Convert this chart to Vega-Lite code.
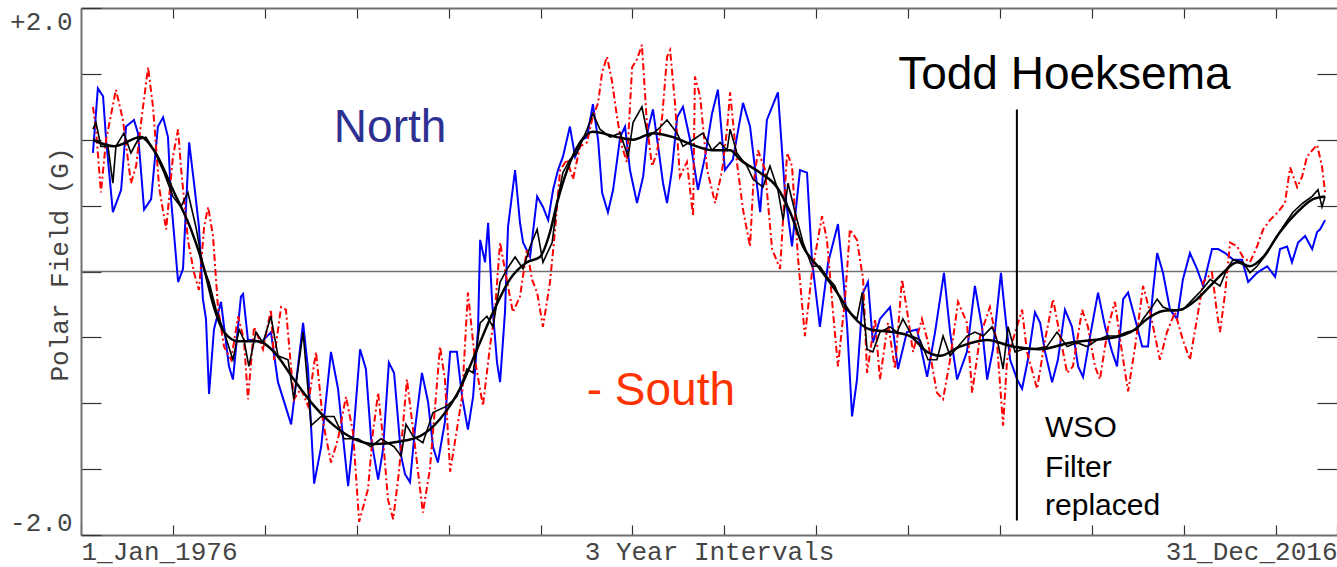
{
  "$schema": "https://vega.github.io/schema/vega-lite/v6.json",
  "width": 1256,
  "height": 527,
  "autosize": {"type": "none"},
  "padding": {"left": 81, "top": 8, "right": 0, "bottom": 32},
  "background": "white",
  "config": {"view": {"stroke": null}},
  "datasets": {
    "north": [
      {"t":1976.39,"v":0.90},{"t":1976.55,"v":1.39},{"t":1976.72,"v":1.33},{"t":1976.82,"v":1.00},{"t":1977.04,"v":0.45},{"t":1977.31,"v":0.62},{"t":1977.47,"v":1.10},{"t":1977.73,"v":1.15},{"t":1977.86,"v":1.05},{"t":1978.06,"v":0.47},{"t":1978.29,"v":0.55},{"t":1978.51,"v":1.10},{"t":1978.68,"v":1.17},{"t":1978.84,"v":1.02},{"t":1978.94,"v":0.55},{"t":1979.17,"v":-0.08},{"t":1979.33,"v":0.02},{"t":1979.53,"v":0.98},{"t":1979.69,"v":0.67},{"t":1979.85,"v":0.34},{"t":1979.98,"v":-0.21},{"t":1980.08,"v":-0.36},{"t":1980.18,"v":-0.93},{"t":1980.34,"v":-0.44},{"t":1980.57,"v":-0.23},{"t":1980.83,"v":-0.72},{"t":1980.96,"v":-0.82},{"t":1981.22,"v":-0.19},{"t":1981.29,"v":-0.17},{"t":1981.45,"v":-0.52},{"t":1981.65,"v":-0.52},{"t":1981.88,"v":-0.54},{"t":1982.20,"v":-0.46},{"t":1982.43,"v":-0.84},{"t":1982.86,"v":-1.16},{"t":1983.25,"v":-0.39},{"t":1983.41,"v":-0.74},{"t":1983.61,"v":-1.61},{"t":1983.84,"v":-1.33},{"t":1984.16,"v":-0.61},{"t":1984.39,"v":-0.89},{"t":1984.72,"v":-1.63},{"t":1984.88,"v":-1.27},{"t":1985.11,"v":-0.59},{"t":1985.30,"v":-0.74},{"t":1985.47,"v":-1.27},{"t":1985.70,"v":-1.58},{"t":1985.86,"v":-1.35},{"t":1986.05,"v":-0.69},{"t":1986.22,"v":-0.77},{"t":1986.45,"v":-1.40},{"t":1986.58,"v":-1.54},{"t":1986.74,"v":-1.60},{"t":1986.90,"v":-1.20},{"t":1987.13,"v":-0.77},{"t":1987.33,"v":-0.99},{"t":1987.49,"v":-1.33},{"t":1987.65,"v":-1.45},{"t":1987.88,"v":-1.14},{"t":1988.05,"v":-0.61},{"t":1988.27,"v":-0.61},{"t":1988.44,"v":-0.95},{"t":1988.63,"v":-1.20},{"t":1988.80,"v":-0.95},{"t":1988.96,"v":-0.44},{"t":1989.03,"v":0.24},{"t":1989.19,"v":0.07},{"t":1989.29,"v":0.37},{"t":1989.42,"v":-0.23},{"t":1989.58,"v":-0.69},{"t":1989.68,"v":-0.84},{"t":1989.84,"v":-0.31},{"t":1989.94,"v":0.34},{"t":1990.17,"v":0.77},{"t":1990.33,"v":0.37},{"t":1990.43,"v":0.22},{"t":1990.66,"v":0.11},{"t":1990.89,"v":0.57},{"t":1991.08,"v":0.49},{"t":1991.25,"v":0.39},{"t":1991.41,"v":0.62},{"t":1991.57,"v":0.77},{"t":1991.73,"v":0.87},{"t":1991.96,"v":1.10},{"t":1992.13,"v":0.87},{"t":1992.35,"v":1.00},{"t":1992.52,"v":1.02},{"t":1992.71,"v":1.27},{"t":1992.88,"v":1.00},{"t":1993.01,"v":0.60},{"t":1993.20,"v":0.45},{"t":1993.37,"v":0.62},{"t":1993.60,"v":1.02},{"t":1993.76,"v":1.10},{"t":1993.92,"v":0.77},{"t":1994.15,"v":0.52},{"t":1994.35,"v":0.72},{"t":1994.51,"v":1.08},{"t":1994.67,"v":1.23},{"t":1994.84,"v":0.95},{"t":1995.00,"v":0.67},{"t":1995.13,"v":0.52},{"t":1995.29,"v":0.77},{"t":1995.46,"v":1.17},{"t":1995.65,"v":1.25},{"t":1995.88,"v":1.00},{"t":1996.14,"v":0.62},{"t":1996.37,"v":0.87},{"t":1996.60,"v":1.20},{"t":1996.79,"v":1.38},{"t":1997.02,"v":0.77},{"t":1997.28,"v":0.85},{"t":1997.61,"v":1.28},{"t":1997.84,"v":1.10},{"t":1998.17,"v":0.45},{"t":1998.39,"v":1.15},{"t":1998.75,"v":1.36},{"t":1998.98,"v":0.60},{"t":1999.21,"v":0.19},{"t":1999.47,"v":0.77},{"t":1999.70,"v":0.75},{"t":1999.86,"v":0.09},{"t":2000.12,"v":-0.42},{"t":2000.39,"v":0.07},{"t":2000.71,"v":0.36},{"t":2000.88,"v":-0.04},{"t":2001.01,"v":-0.42},{"t":2001.17,"v":-1.10},{"t":2001.33,"v":-0.82},{"t":2001.53,"v":-0.16},{"t":2001.69,"v":-0.08},{"t":2001.85,"v":-0.54},{"t":2002.08,"v":-0.36},{"t":2002.41,"v":-0.27},{"t":2002.67,"v":-0.74},{"t":2002.96,"v":-0.46},{"t":2003.29,"v":-0.44},{"t":2003.62,"v":-0.80},{"t":2003.88,"v":-0.46},{"t":2004.17,"v":-0.01},{"t":2004.37,"v":-0.46},{"t":2004.60,"v":-0.82},{"t":2004.92,"v":-0.61},{"t":2005.18,"v":-0.11},{"t":2005.41,"v":-0.42},{"t":2005.58,"v":-0.82},{"t":2005.77,"v":-0.59},{"t":2006.03,"v":-0.01},{"t":2006.16,"v":-0.31},{"t":2006.33,"v":-0.67},{"t":2006.56,"v":-0.82},{"t":2006.72,"v":-0.89},{"t":2006.91,"v":-0.67},{"t":2007.14,"v":-0.31},{"t":2007.31,"v":-0.39},{"t":2007.47,"v":-0.61},{"t":2007.70,"v":-0.84},{"t":2007.89,"v":-0.67},{"t":2008.12,"v":-0.29},{"t":2008.35,"v":-0.42},{"t":2008.55,"v":-0.72},{"t":2008.71,"v":-0.80},{"t":2008.94,"v":-0.49},{"t":2009.20,"v":-0.16},{"t":2009.43,"v":-0.42},{"t":2009.66,"v":-0.61},{"t":2009.82,"v":-0.72},{"t":2010.02,"v":-0.21},{"t":2010.18,"v":-0.16},{"t":2010.41,"v":-0.36},{"t":2010.64,"v":-0.57},{"t":2010.83,"v":-0.57},{"t":2010.99,"v":-0.16},{"t":2011.13,"v":0.14},{"t":2011.32,"v":-0.01},{"t":2011.55,"v":-0.29},{"t":2011.78,"v":-0.36},{"t":2011.97,"v":-0.06},{"t":2012.20,"v":0.14},{"t":2012.43,"v":0.02},{"t":2012.63,"v":-0.11},{"t":2012.92,"v":0.17},{"t":2013.12,"v":0.17},{"t":2013.35,"v":0.14},{"t":2013.61,"v":0.09},{"t":2013.90,"v":0.09},{"t":2014.10,"v":-0.08},{"t":2014.39,"v":-0.01},{"t":2014.72,"v":0.04},{"t":2014.98,"v":-0.04},{"t":2015.14,"v":0.17},{"t":2015.37,"v":0.19},{"t":2015.53,"v":0.07},{"t":2015.73,"v":0.22},{"t":2015.96,"v":0.27},{"t":2016.19,"v":0.17},{"t":2016.35,"v":0.30},{"t":2016.45,"v":0.32},{"t":2016.61,"v":0.39}
    ],
    "south": [
      {"t":1976.39,"v":1.25},{"t":1976.49,"v":1.08},{"t":1976.65,"v":0.60},{"t":1976.82,"v":1.00},{"t":1977.14,"v":1.38},{"t":1977.37,"v":1.15},{"t":1977.63,"v":0.67},{"t":1977.80,"v":0.80},{"t":1977.96,"v":1.13},{"t":1978.19,"v":1.55},{"t":1978.35,"v":1.25},{"t":1978.55,"v":0.64},{"t":1978.78,"v":0.32},{"t":1979.00,"v":0.87},{"t":1979.17,"v":1.08},{"t":1979.26,"v":0.80},{"t":1979.49,"v":0.24},{"t":1979.69,"v":-0.01},{"t":1979.85,"v":-0.14},{"t":1980.02,"v":0.34},{"t":1980.15,"v":0.49},{"t":1980.31,"v":0.27},{"t":1980.47,"v":-0.27},{"t":1980.67,"v":-0.57},{"t":1980.90,"v":-0.67},{"t":1981.13,"v":-0.34},{"t":1981.32,"v":-0.52},{"t":1981.45,"v":-0.97},{"t":1981.65,"v":-0.42},{"t":1981.94,"v":-0.59},{"t":1982.20,"v":-0.29},{"t":1982.30,"v":-0.67},{"t":1982.53,"v":-0.27},{"t":1982.69,"v":-0.29},{"t":1982.95,"v":-0.97},{"t":1983.18,"v":-0.89},{"t":1983.41,"v":-1.02},{"t":1983.67,"v":-0.61},{"t":1983.90,"v":-1.14},{"t":1984.16,"v":-1.45},{"t":1984.39,"v":-1.27},{"t":1984.65,"v":-0.95},{"t":1984.88,"v":-1.22},{"t":1985.08,"v":-1.90},{"t":1985.37,"v":-1.65},{"t":1985.53,"v":-1.22},{"t":1985.70,"v":-0.92},{"t":1985.86,"v":-1.27},{"t":1986.02,"v":-1.73},{"t":1986.19,"v":-1.88},{"t":1986.38,"v":-1.52},{"t":1986.64,"v":-0.82},{"t":1986.84,"v":-1.20},{"t":1987.16,"v":-1.83},{"t":1987.39,"v":-1.50},{"t":1987.72,"v":-0.57},{"t":1987.88,"v":-0.82},{"t":1988.05,"v":-1.52},{"t":1988.27,"v":-1.20},{"t":1988.44,"v":-0.95},{"t":1988.63,"v":-0.16},{"t":1988.86,"v":-0.67},{"t":1989.12,"v":-1.02},{"t":1989.35,"v":-0.57},{"t":1989.51,"v":-0.31},{"t":1989.68,"v":0.22},{"t":1989.91,"v":-0.08},{"t":1990.10,"v":-0.31},{"t":1990.33,"v":-0.19},{"t":1990.56,"v":0.17},{"t":1990.72,"v":-0.06},{"t":1990.89,"v":-0.16},{"t":1991.08,"v":-0.42},{"t":1991.31,"v":-0.08},{"t":1991.47,"v":0.30},{"t":1991.64,"v":0.77},{"t":1991.87,"v":0.85},{"t":1992.06,"v":0.70},{"t":1992.29,"v":0.95},{"t":1992.52,"v":0.98},{"t":1992.68,"v":1.15},{"t":1992.88,"v":1.28},{"t":1993.01,"v":1.51},{"t":1993.17,"v":1.63},{"t":1993.33,"v":1.45},{"t":1993.50,"v":1.17},{"t":1993.66,"v":0.95},{"t":1993.82,"v":0.83},{"t":1993.99,"v":1.55},{"t":1994.15,"v":1.61},{"t":1994.31,"v":1.72},{"t":1994.48,"v":1.10},{"t":1994.64,"v":0.80},{"t":1994.80,"v":0.90},{"t":1994.97,"v":1.17},{"t":1995.13,"v":1.63},{"t":1995.23,"v":1.68},{"t":1995.39,"v":1.28},{"t":1995.55,"v":0.72},{"t":1995.78,"v":0.83},{"t":1995.98,"v":0.42},{"t":1996.04,"v":1.48},{"t":1996.21,"v":1.33},{"t":1996.44,"v":0.77},{"t":1996.70,"v":0.52},{"t":1996.93,"v":0.77},{"t":1997.09,"v":1.08},{"t":1997.19,"v":1.36},{"t":1997.41,"v":0.83},{"t":1997.61,"v":0.47},{"t":1997.84,"v":0.19},{"t":1997.94,"v":0.64},{"t":1998.10,"v":0.92},{"t":1998.33,"v":0.77},{"t":1998.56,"v":0.17},{"t":1998.82,"v":0.02},{"t":1999.05,"v":0.90},{"t":1999.21,"v":0.80},{"t":1999.41,"v":0.09},{"t":1999.63,"v":-0.49},{"t":1999.86,"v":-0.01},{"t":2000.19,"v":0.42},{"t":2000.35,"v":0.24},{"t":2000.55,"v":-0.31},{"t":2000.71,"v":-0.72},{"t":2000.94,"v":-0.21},{"t":2001.10,"v":0.32},{"t":2001.33,"v":0.24},{"t":2001.53,"v":-0.06},{"t":2001.66,"v":-0.77},{"t":2001.92,"v":-0.36},{"t":2002.08,"v":-0.82},{"t":2002.34,"v":-0.39},{"t":2002.57,"v":-0.74},{"t":2002.80,"v":-0.06},{"t":2002.96,"v":-0.29},{"t":2003.16,"v":-0.61},{"t":2003.45,"v":-0.36},{"t":2003.65,"v":-0.54},{"t":2003.94,"v":-0.92},{"t":2004.14,"v":-0.97},{"t":2004.37,"v":-0.67},{"t":2004.63,"v":-0.23},{"t":2004.92,"v":-0.39},{"t":2005.09,"v":-0.92},{"t":2005.35,"v":-0.49},{"t":2005.67,"v":-0.27},{"t":2005.90,"v":-0.54},{"t":2006.10,"v":-1.17},{"t":2006.23,"v":-0.67},{"t":2006.42,"v":-0.52},{"t":2006.72,"v":-0.29},{"t":2006.88,"v":-0.61},{"t":2007.21,"v":-0.89},{"t":2007.47,"v":-0.52},{"t":2007.73,"v":-0.21},{"t":2007.96,"v":-0.49},{"t":2008.19,"v":-0.77},{"t":2008.38,"v":-0.72},{"t":2008.68,"v":-0.29},{"t":2008.87,"v":-0.42},{"t":2009.10,"v":-0.72},{"t":2009.26,"v":-0.82},{"t":2009.53,"v":-0.42},{"t":2009.75,"v":-0.23},{"t":2009.98,"v":-0.61},{"t":2010.18,"v":-0.91},{"t":2010.41,"v":-0.57},{"t":2010.67,"v":-0.11},{"t":2010.90,"v":-0.31},{"t":2011.06,"v":-0.49},{"t":2011.22,"v":-0.67},{"t":2011.45,"v":-0.46},{"t":2011.71,"v":-0.31},{"t":2011.97,"v":-0.52},{"t":2012.20,"v":-0.67},{"t":2012.43,"v":-0.36},{"t":2012.63,"v":-0.08},{"t":2012.92,"v":-0.01},{"t":2013.08,"v":-0.31},{"t":2013.18,"v":-0.46},{"t":2013.35,"v":-0.16},{"t":2013.51,"v":0.22},{"t":2013.74,"v":0.19},{"t":2013.93,"v":0.11},{"t":2014.16,"v":0.07},{"t":2014.39,"v":0.19},{"t":2014.59,"v":0.32},{"t":2014.81,"v":0.39},{"t":2015.07,"v":0.45},{"t":2015.30,"v":0.52},{"t":2015.47,"v":0.79},{"t":2015.70,"v":0.64},{"t":2015.86,"v":0.72},{"t":2016.02,"v":0.87},{"t":2016.19,"v":0.92},{"t":2016.35,"v":0.96},{"t":2016.51,"v":0.80},{"t":2016.61,"v":0.60}
    ],
    "avg": [
      {"t":1976.39,"v":1.08},{"t":1976.49,"v":1.13},{"t":1976.65,"v":0.95},{"t":1976.88,"v":0.95},{"t":1977.04,"v":0.67},{"t":1977.14,"v":0.95},{"t":1977.40,"v":1.05},{"t":1977.63,"v":0.90},{"t":1977.86,"v":1.00},{"t":1978.12,"v":1.02},{"t":1978.38,"v":0.92},{"t":1978.71,"v":0.75},{"t":1979.00,"v":0.57},{"t":1979.26,"v":0.49},{"t":1979.49,"v":0.60},{"t":1979.75,"v":0.34},{"t":1979.98,"v":0.04},{"t":1980.18,"v":-0.08},{"t":1980.41,"v":-0.29},{"t":1980.67,"v":-0.46},{"t":1980.96,"v":-0.67},{"t":1981.16,"v":-0.44},{"t":1981.32,"v":-0.52},{"t":1981.48,"v":-0.72},{"t":1981.71,"v":-0.46},{"t":1981.94,"v":-0.54},{"t":1982.20,"v":-0.34},{"t":1982.43,"v":-0.64},{"t":1982.76,"v":-0.67},{"t":1982.95,"v":-0.97},{"t":1983.25,"v":-0.46},{"t":1983.51,"v":-1.17},{"t":1983.84,"v":-1.10},{"t":1984.26,"v":-1.10},{"t":1984.59,"v":-1.27},{"t":1985.04,"v":-1.27},{"t":1985.47,"v":-1.33},{"t":1985.79,"v":-1.27},{"t":1986.22,"v":-1.33},{"t":1986.45,"v":-1.40},{"t":1986.61,"v":-1.16},{"t":1986.84,"v":-1.25},{"t":1987.16,"v":-1.30},{"t":1987.49,"v":-1.07},{"t":1987.95,"v":-1.02},{"t":1988.27,"v":-0.95},{"t":1988.60,"v":-0.74},{"t":1988.80,"v":-0.77},{"t":1989.03,"v":-0.39},{"t":1989.25,"v":-0.34},{"t":1989.45,"v":-0.42},{"t":1989.68,"v":-0.08},{"t":1989.91,"v":0.02},{"t":1990.17,"v":0.11},{"t":1990.43,"v":0.02},{"t":1990.66,"v":0.19},{"t":1990.89,"v":0.32},{"t":1991.08,"v":0.07},{"t":1991.38,"v":0.22},{"t":1991.54,"v":0.52},{"t":1991.73,"v":0.75},{"t":1991.96,"v":0.85},{"t":1992.19,"v":0.90},{"t":1992.52,"v":1.08},{"t":1992.71,"v":1.20},{"t":1992.94,"v":1.08},{"t":1993.27,"v":1.02},{"t":1993.60,"v":1.05},{"t":1993.86,"v":0.87},{"t":1994.02,"v":1.13},{"t":1994.31,"v":1.25},{"t":1994.51,"v":1.02},{"t":1994.84,"v":1.08},{"t":1995.13,"v":1.15},{"t":1995.46,"v":1.05},{"t":1995.65,"v":0.95},{"t":1995.98,"v":1.00},{"t":1996.30,"v":1.05},{"t":1996.60,"v":0.92},{"t":1996.86,"v":0.98},{"t":1997.09,"v":0.92},{"t":1997.19,"v":1.08},{"t":1997.41,"v":0.90},{"t":1997.74,"v":0.80},{"t":1997.94,"v":0.70},{"t":1998.26,"v":0.64},{"t":1998.49,"v":0.80},{"t":1998.75,"v":0.62},{"t":1998.92,"v":0.39},{"t":1999.08,"v":0.67},{"t":1999.31,"v":0.45},{"t":1999.57,"v":0.22},{"t":1999.86,"v":0.04},{"t":2000.12,"v":0.04},{"t":2000.35,"v":-0.04},{"t":2000.61,"v":-0.11},{"t":2000.88,"v":-0.27},{"t":2001.10,"v":-0.31},{"t":2001.33,"v":-0.36},{"t":2001.50,"v":-0.16},{"t":2001.66,"v":-0.59},{"t":2001.85,"v":-0.61},{"t":2002.08,"v":-0.46},{"t":2002.41,"v":-0.42},{"t":2002.64,"v":-0.46},{"t":2002.83,"v":-0.36},{"t":2003.13,"v":-0.49},{"t":2003.39,"v":-0.52},{"t":2003.65,"v":-0.67},{"t":2003.94,"v":-0.67},{"t":2004.14,"v":-0.49},{"t":2004.37,"v":-0.64},{"t":2004.63,"v":-0.57},{"t":2004.92,"v":-0.49},{"t":2005.18,"v":-0.46},{"t":2005.45,"v":-0.49},{"t":2005.74,"v":-0.42},{"t":2005.93,"v":-0.54},{"t":2006.10,"v":-0.74},{"t":2006.26,"v":-0.42},{"t":2006.49,"v":-0.61},{"t":2006.75,"v":-0.59},{"t":2007.08,"v":-0.59},{"t":2007.53,"v":-0.57},{"t":2007.86,"v":-0.46},{"t":2008.19,"v":-0.57},{"t":2008.51,"v":-0.54},{"t":2008.84,"v":-0.57},{"t":2009.17,"v":-0.52},{"t":2009.49,"v":-0.49},{"t":2009.82,"v":-0.49},{"t":2010.15,"v":-0.46},{"t":2010.47,"v":-0.44},{"t":2010.67,"v":-0.36},{"t":2010.96,"v":-0.27},{"t":2011.13,"v":-0.21},{"t":2011.32,"v":-0.27},{"t":2011.65,"v":-0.30},{"t":2011.97,"v":-0.29},{"t":2012.30,"v":-0.21},{"t":2012.59,"v":-0.14},{"t":2012.86,"v":-0.06},{"t":2013.18,"v":-0.11},{"t":2013.41,"v":0.02},{"t":2013.61,"v":0.09},{"t":2013.93,"v":0.07},{"t":2014.16,"v":-0.01},{"t":2014.39,"v":0.04},{"t":2014.72,"v":0.14},{"t":2014.91,"v":0.22},{"t":2015.24,"v":0.34},{"t":2015.56,"v":0.45},{"t":2015.89,"v":0.52},{"t":2016.19,"v":0.57},{"t":2016.38,"v":0.62},{"t":2016.51,"v":0.49},{"t":2016.61,"v":0.57}
    ],
    "smooth": [
      {"t":1976.39,"v":1.00},{"t":1977.08,"v":0.95},{"t":1977.96,"v":1.02},{"t":1978.38,"v":0.92},{"t":1979.04,"v":0.60},{"t":1979.59,"v":0.32},{"t":1980.02,"v":0.02},{"t":1980.34,"v":-0.27},{"t":1980.67,"v":-0.46},{"t":1981.13,"v":-0.53},{"t":1981.78,"v":-0.53},{"t":1982.30,"v":-0.61},{"t":1982.95,"v":-0.82},{"t":1983.61,"v":-1.02},{"t":1984.26,"v":-1.17},{"t":1984.91,"v":-1.27},{"t":1985.56,"v":-1.31},{"t":1986.41,"v":-1.29},{"t":1987.07,"v":-1.25},{"t":1987.72,"v":-1.12},{"t":1988.37,"v":-0.89},{"t":1988.93,"v":-0.59},{"t":1989.45,"v":-0.31},{"t":1990.00,"v":-0.06},{"t":1990.56,"v":0.07},{"t":1990.98,"v":0.11},{"t":1991.31,"v":0.30},{"t":1991.54,"v":0.52},{"t":1991.87,"v":0.77},{"t":1992.29,"v":0.98},{"t":1992.71,"v":1.06},{"t":1993.50,"v":1.02},{"t":1994.02,"v":1.00},{"t":1994.67,"v":1.05},{"t":1995.33,"v":1.02},{"t":1995.98,"v":0.96},{"t":1996.63,"v":0.92},{"t":1997.19,"v":0.92},{"t":1997.51,"v":0.85},{"t":1998.17,"v":0.75},{"t":1998.72,"v":0.64},{"t":1999.15,"v":0.45},{"t":1999.57,"v":0.19},{"t":2000.12,"v":0.02},{"t":2000.68,"v":-0.16},{"t":2001.20,"v":-0.34},{"t":2001.76,"v":-0.44},{"t":2002.51,"v":-0.46},{"t":2003.06,"v":-0.49},{"t":2003.62,"v":-0.61},{"t":2004.04,"v":-0.64},{"t":2004.69,"v":-0.57},{"t":2005.58,"v":-0.52},{"t":2006.42,"v":-0.57},{"t":2007.31,"v":-0.59},{"t":2008.29,"v":-0.54},{"t":2009.04,"v":-0.52},{"t":2009.92,"v":-0.49},{"t":2010.34,"v":-0.45},{"t":2010.80,"v":-0.36},{"t":2011.32,"v":-0.30},{"t":2011.88,"v":-0.29},{"t":2012.43,"v":-0.21},{"t":2012.86,"v":-0.11},{"t":2013.28,"v":-0.01},{"t":2013.74,"v":0.07},{"t":2014.16,"v":0.04},{"t":2014.59,"v":0.11},{"t":2015.14,"v":0.30},{"t":2015.70,"v":0.45},{"t":2016.22,"v":0.55},{"t":2016.61,"v":0.57}
    ]
  },
  "resolve": {"axis": {"x": "independent", "y": "independent"}},
  "layer": [
    {
      "data": {"values": [{"v": 0}]},
      "mark": {"type": "rule", "color": "#707070", "strokeWidth": 1.5},
      "encoding": {
        "y": {"field": "v", "type": "quantitative", "scale": {"domain": [-2, 2], "nice": false, "zero": false}, "axis": null}
      }
    },
    {
      "data": {"name": "north"},
      "mark": {"type": "line", "color": "#0000ff", "strokeWidth": 2},
      "encoding": {
        "x": {"field": "t", "type": "quantitative", "scale": {"domain": [1976, 2017], "nice": false, "zero": false},
          "axis": {"orient": "bottom", "values": [1976, 1979, 1982, 1985, 1988, 1991, 1994, 1997, 2000, 2003, 2006, 2009, 2012, 2015, 2017],
            "grid": false, "tickSize": -10, "tickColor": "#333333", "tickWidth": 1.2, "domainColor": "#707070", "domainWidth": 2,
            "labelExpr": "datum.value == 1976 ? '1_Jan_1976' : (datum.value == 2017 ? '31_Dec_2016' : '')",
            "labelFlush": true, "labelOverlap": false, "labelFont": "Liberation Mono", "labelFontSize": 26, "labelColor": "#444444",
            "labelBaseline": "middle", "labelPadding": 26,
            "title": "3 Year Intervals", "titleFont": "Liberation Mono", "titleFontSize": 26, "titleFontWeight": "normal", "titleColor": "#444444",
            "titleBaseline": "middle", "titleY": 16}},
        "y": {"field": "v", "type": "quantitative", "scale": {"domain": [-2, 2], "nice": false, "zero": false},
          "axis": {"orient": "left", "values": [-2, -1.5, -1, -0.5, 0, 0.5, 1, 1.5, 2],
            "grid": false, "tickSize": -20, "tickColor": "#333333", "tickWidth": 1.2, "domainColor": "#707070", "domainWidth": 2,
            "labelExpr": "datum.value == 2 ? '+2.0' : (datum.value == -2 ? '-2.0' : '')",
            "labelFlush": true, "labelOverlap": false, "labelFont": "Liberation Mono", "labelFontSize": 26, "labelColor": "#444444",
            "labelPadding": 29,
            "title": "Polar Field (G)", "titleFont": "Liberation Mono", "titleFontSize": 26, "titleFontWeight": "normal", "titleColor": "#444444",
            "titleAngle": -90, "titleX": -14, "titleY": 256, "titleBaseline": "alphabetic", "titleAlign": "center"}}
      }
    },
    {
      "data": {"name": "south"},
      "mark": {"type": "line", "color": "#ff0000", "strokeWidth": 2, "strokeDash": [7, 3, 2, 3]},
      "encoding": {
        "x": {"field": "t", "type": "quantitative", "scale": {"domain": [1976, 2017], "nice": false, "zero": false},
          "axis": {"orient": "top", "values": [1979, 1982, 1985, 1988, 1991, 1994, 1997, 2000, 2003, 2006, 2009, 2012, 2015],
            "grid": false, "tickSize": -10, "tickColor": "#333333", "tickWidth": 1.2, "domainColor": "#707070", "domainWidth": 2,
            "labels": false, "title": null}},
        "y": {"field": "v", "type": "quantitative", "scale": {"domain": [-2, 2], "nice": false, "zero": false},
          "axis": {"orient": "right", "values": [-1.5, -1, -0.5, 0.5, 1, 1.5],
            "grid": false, "tickSize": -20, "tickColor": "#333333", "tickWidth": 1.2, "domain": false,
            "labels": false, "title": null}}
      }
    },
    {
      "data": {"name": "avg"},
      "mark": {"type": "line", "color": "#000000", "strokeWidth": 1.6},
      "encoding": {
        "x": {"field": "t", "type": "quantitative", "scale": {"domain": [1976, 2017], "nice": false, "zero": false}, "axis": null},
        "y": {"field": "v", "type": "quantitative", "scale": {"domain": [-2, 2], "nice": false, "zero": false}, "axis": null}
      }
    },
    {
      "data": {"name": "smooth"},
      "mark": {"type": "line", "color": "#000000", "strokeWidth": 2.5, "interpolate": "monotone"},
      "encoding": {
        "x": {"field": "t", "type": "quantitative", "scale": {"domain": [1976, 2017], "nice": false, "zero": false}, "axis": null},
        "y": {"field": "v", "type": "quantitative", "scale": {"domain": [-2, 2], "nice": false, "zero": false}, "axis": null}
      }
    },
    {
      "data": {"values": [{"t": 2006.55, "v": 1.23, "v2": -1.89}]},
      "mark": {"type": "rule", "color": "#000000", "strokeWidth": 2},
      "encoding": {
        "x": {"field": "t", "type": "quantitative", "scale": {"domain": [1976, 2017], "nice": false, "zero": false}, "axis": null},
        "y": {"field": "v", "type": "quantitative", "scale": {"domain": [-2, 2], "nice": false, "zero": false}, "axis": null},
        "y2": {"field": "v2"}
      }
    },
    {
      "data": {"values": [{"label": "North", "t": 1986.09, "v": 1.09}]},
      "mark": {"type": "text", "font": "Liberation Sans", "fontSize": 46, "color": "#2e3192", "align": "center", "baseline": "middle"},
      "encoding": {
        "x": {"field": "t", "type": "quantitative", "scale": {"domain": [1976, 2017], "nice": false, "zero": false}, "axis": null},
        "y": {"field": "v", "type": "quantitative", "scale": {"domain": [-2, 2], "nice": false, "zero": false}, "axis": null},
        "text": {"field": "label"}
      }
    },
    {
      "data": {"values": [{"label": "- South", "t": 1994.93, "v": -0.91}]},
      "mark": {"type": "text", "font": "Liberation Sans", "fontSize": 46, "color": "#ff3300", "align": "center", "baseline": "middle"},
      "encoding": {
        "x": {"field": "t", "type": "quantitative", "scale": {"domain": [1976, 2017], "nice": false, "zero": false}, "axis": null},
        "y": {"field": "v", "type": "quantitative", "scale": {"domain": [-2, 2], "nice": false, "zero": false}, "axis": null},
        "text": {"field": "label"}
      }
    },
    {
      "data": {"values": [{"label": "Todd Hoeksema", "t": 2008.10, "v": 1.49}]},
      "mark": {"type": "text", "font": "Liberation Sans", "fontSize": 46, "color": "#000000", "align": "center", "baseline": "middle"},
      "encoding": {
        "x": {"field": "t", "type": "quantitative", "scale": {"domain": [1976, 2017], "nice": false, "zero": false}, "axis": null},
        "y": {"field": "v", "type": "quantitative", "scale": {"domain": [-2, 2], "nice": false, "zero": false}, "axis": null},
        "text": {"field": "label"}
      }
    },
    {
      "data": {"values": [{"label": "WSO", "t": 2007.47, "v": -1.19}, {"label": "Filter", "t": 2007.47, "v": -1.49}, {"label": "replaced", "t": 2007.47, "v": -1.78}]},
      "mark": {"type": "text", "font": "Liberation Sans", "fontSize": 30, "color": "#000000", "align": "left", "baseline": "middle"},
      "encoding": {
        "x": {"field": "t", "type": "quantitative", "scale": {"domain": [1976, 2017], "nice": false, "zero": false}, "axis": null},
        "y": {"field": "v", "type": "quantitative", "scale": {"domain": [-2, 2], "nice": false, "zero": false}, "axis": null},
        "text": {"field": "label"}
      }
    }
  ]
}
